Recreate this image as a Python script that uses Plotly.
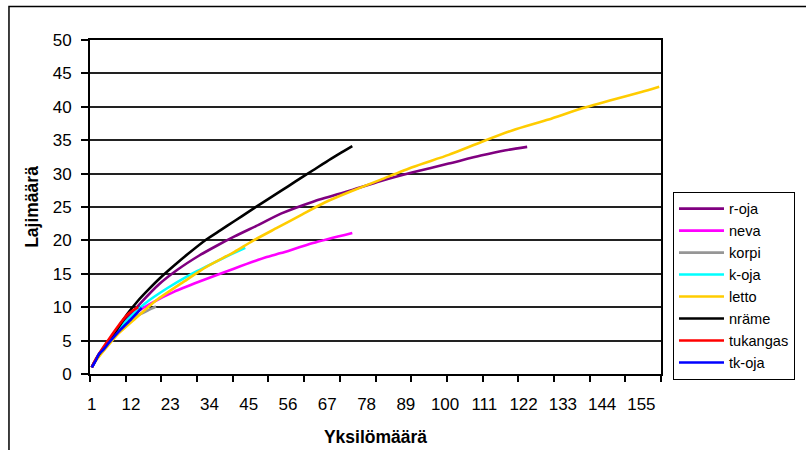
import plotly.graph_objects as go

# ---- data ----
x_tick_labels = [1, 12, 23, 34, 45, 56, 67, 78, 89, 100, 111, 122, 133, 144, 155]
y_tick_values = [0, 5, 10, 15, 20, 25, 30, 35, 40, 45, 50]

roja_x = [1, 2, 3, 5, 8, 11, 15, 20, 25, 31, 36, 41, 48, 54, 63, 73, 82, 91, 101, 110, 117, 123]
roja_y = [1, 2, 2.9, 4.4, 6.4, 8.4, 10.8, 13.5, 15.6, 17.7, 19.2, 20.6, 22.4, 24.0, 25.8, 27.4, 28.9, 30.2, 31.5, 32.7, 33.5, 34.0]

neva_x = [1, 2, 3, 5, 8, 11, 14, 18, 24, 31, 41, 50, 54, 63, 74]
neva_y = [1, 2, 2.8, 4.2, 6.2, 8.0, 9.4, 10.7, 12.3, 13.8, 15.8, 17.5, 18.1, 19.6, 21.1]

korpi_x = [1, 2, 3, 5, 8, 11, 14, 17, 19]
korpi_y = [1, 2, 2.8, 4.2, 6.0, 7.6, 8.8, 9.6, 10.1]

koja_x = [1, 2, 3, 5, 8, 11, 16, 22, 28, 35, 40, 44]
koja_y = [1, 2, 2.8, 4.3, 6.3, 8.1, 10.6, 12.8, 14.7, 16.6, 17.9, 18.9]

letto_x = [1, 2, 3, 5, 8, 13, 19, 27, 33, 41, 46, 53, 60, 66, 73, 82, 91, 101, 110, 119, 129, 138, 148, 155, 160]
letto_y = [1, 1.9, 2.6, 3.9, 5.8, 8.2, 11.0, 13.9, 16.0, 18.3, 19.9, 21.9, 23.9, 25.6, 27.2, 29.1, 31.0, 32.8, 34.7, 36.5, 38.1, 39.7, 41.2, 42.2, 43.0]

nrame_x = [1, 2, 3, 5, 8, 11, 14, 17, 20, 24, 28, 33, 37, 41, 45, 49, 54, 58, 63, 68, 74]
nrame_y = [1, 2, 2.9, 4.4, 6.6, 9.0, 11.0, 12.7, 14.3, 16.2, 18.0, 20.1, 21.5, 22.9, 24.3, 25.7, 27.4, 28.8, 30.5, 32.2, 34.1]

tukangas_x = [1, 2, 3, 5, 8, 11, 14]
tukangas_y = [1, 2.1, 3.0, 4.6, 6.9, 8.9, 10.0]

tkoja_x = [1, 2, 3, 4, 6, 9, 12, 15]
tkoja_y = [1, 1.9, 3.0, 3.5, 4.8, 6.6, 8.2, 9.9]

series = [
    ("r-oja", roja_x, roja_y, "#800080"),
    ("neva", neva_x, neva_y, "#FF00FF"),
    ("korpi", korpi_x, korpi_y, "#969696"),
    ("k-oja", koja_x, koja_y, "#00FFFF"),
    ("letto", letto_x, letto_y, "#FFCC00"),
    ("nräme", nrame_x, nrame_y, "#000000"),
    ("tukangas", tukangas_x, tukangas_y, "#FF0000"),
    ("tk-oja", tkoja_x, tkoja_y, "#0000FF"),
]

FONT = "Liberation Sans, Arial, sans-serif"

fig = go.Figure()
for name, xs, ys, col in series:
    fig.add_trace(go.Scatter(x=xs, y=ys, name=name, mode="lines",
                             line=dict(color=col, width=2.6, shape="spline", smoothing=0.6)))

fig.update_layout(
    width=806, height=450,
    margin=dict(l=90, r=145, t=40, b=76, pad=0, autoexpand=False),
    paper_bgcolor="white", plot_bgcolor="white",
    font=dict(family=FONT, size=17, color="black"),
    showlegend=True,
    legend=dict(x=1.021, y=0.546, xanchor="left", yanchor="top",
                bordercolor="black", borderwidth=1, bgcolor="white",
                itemwidth=45,
                font=dict(family=FONT, size=14.6, color="black")),
    xaxis=dict(range=[0.5, 160.5], tickmode="array", tickvals=x_tick_labels,
               ticktext=[str(v) for v in x_tick_labels], ticks="",
               ticklabelstandoff=14, automargin=False,
               showgrid=False, zeroline=False,
               showline=True, linecolor="black", linewidth=2, mirror=True,
               minor=dict(tickmode="linear", tick0=0.5, dtick=10, ticks="outside",
                          ticklen=6, tickwidth=1.5, tickcolor="black", showgrid=False),
               title=dict(text="<b>Yksilömäärä</b>", font=dict(family=FONT, size=17.5),
                          standoff=17)),
    yaxis=dict(range=[0, 50], tickmode="array", tickvals=y_tick_values,
               ticks="outside", ticklen=7, tickwidth=1.5, tickcolor="black",
               ticklabelstandoff=6, automargin=False,
               showgrid=True, gridcolor="#222222", gridwidth=1.6, zeroline=False,
               showline=True, linecolor="black", linewidth=2, mirror=True,
               title=dict(text="<b>Lajimäärä</b>", font=dict(family=FONT, size=17.5),
                          standoff=10)),
    shapes=[dict(type="rect", xref="paper", yref="paper",
                 x0=-0.1419, x1=1.4, y0=-0.4, y1=1.1003,
                 line=dict(color="black", width=1.5), fillcolor="rgba(0,0,0,0)",
                 layer="below")],
)

fig.write_html("out.html")
